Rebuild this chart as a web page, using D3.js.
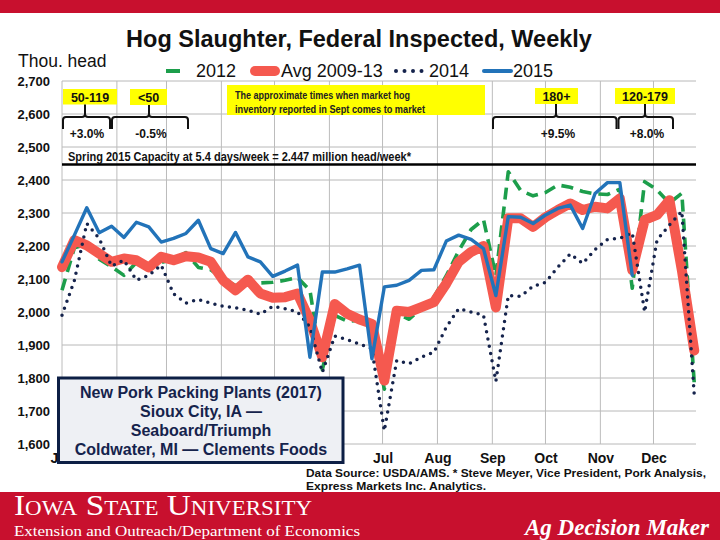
<!DOCTYPE html>
<html><head><meta charset="utf-8">
<script src="https://cdn.jsdelivr.net/npm/d3@7"></script>
<style>html,body{margin:0;padding:0;background:#fff}svg{display:block}</style>
</head><body>
<script>
// ---------------- DATA ----------------
const seriesNames = ["2012", "Avg 2009-13", "2014", "2015"];
const yTicks = [1600,1700,1800,1900,2000,2100,2200,2300,2400,2500,2600,2700];
const capacityValue = 2447;
const y2012 = [2066,2195,2205,2160,2137,2111,2150,2133,2150,2160,2180,2135,2128,2100,2080,2092,2088,2090,2096,2104,2066,1825,1990,1972,1975,1960,1766,1995,1978,2012,2045,2110,2185,2250,2280,2110,2425,2368,2352,2362,2385,2378,2365,2358,2356,2372,2072,2395,2370,2330,2360,1785];
const avg0913 = [2136,2218,2202,2177,2152,2162,2157,2135,2167,2157,2169,2165,2152,2096,2066,2098,2056,2043,2045,2056,1974,1863,2024,1995,1977,1964,1792,2004,2000,2015,2030,2086,2152,2182,2200,2014,2284,2284,2258,2287,2309,2329,2309,2319,2314,2344,2127,2279,2294,2339,2127,1883];
const y2014 = [1990,2096,2268,2223,2139,2157,2096,2111,2142,2055,2027,2038,2027,2017,2013,2005,1993,2017,2010,2000,1955,1817,1927,1916,1903,1888,1640,1853,1843,1863,1878,1954,2010,2000,1990,1790,2050,2047,2078,2090,2136,2176,2147,2189,2220,2223,2240,2000,2218,2264,2305,1750];
const y2015 = [2152,2233,2316,2240,2260,2226,2272,2258,2212,2223,2238,2278,2192,2177,2241,2167,2152,2108,2124,2142,1863,2121,2121,2131,2142,1858,2076,2081,2096,2126,2128,2215,2233,2220,2192,2050,2289,2287,2268,2294,2314,2324,2253,2359,2392,2392,2111];
const sowGroups = ["50-119", "<50", "180+", "120-179"];
const sowChanges = ["+3.0%", "-0.5%", "+9.5%", "+8.0%"];
// month labels hidden behind the note box in the original are not drawn
const hiddenMonths = ["Feb", "Mar", "Apr", "May", "Jun"];

// ---------------- LAYOUT ----------------
const W = 720, H = 540;
const SANS = "'Liberation Sans', Arial, Helvetica, sans-serif";
const NARROW = "'Liberation Sans Narrow', 'Arial Narrow', 'Liberation Sans', Arial, sans-serif";
const SERIF = "'Liberation Serif', 'Times New Roman', serif";
const svg = d3.select("body").append("svg").attr("width", W).attr("height", H);
svg.append("rect").attr("width", W).attr("height", H).attr("fill", "#fff");

const t0 = new Date(2015, 0, 1), t1 = new Date(2015, 11, 25);
const x = d3.scaleTime().domain([t0, t1]).range([62, 696]);
const y = d3.scaleLinear().domain([1600, 2700]).range([444, 81]);
const wk = i => d3.timeDay.offset(t0, 7 * i);
const fmtMonth = d3.timeFormat("%b");

// top band
svg.append("rect").attr("x", 0).attr("y", 0).attr("width", W).attr("height", 13).attr("fill", "#c8102e");

// title
svg.append("text").attr("x", 359).attr("y", 47).attr("text-anchor", "middle")
  .attr("font-family", SANS).attr("font-weight", "bold").attr("font-size", 23.5).attr("fill", "#111")
  .text("Hog Slaughter, Federal Inspected, Weekly");
svg.append("text").attr("x", 18).attr("y", 67).attr("font-family", SANS).attr("font-size", 17.5).attr("fill", "#111")
  .text("Thou. head");

// grid
const g = svg.append("g");
g.selectAll("line.h").data(yTicks).join("line")
  .attr("x1", 62).attr("x2", 696).attr("y1", d => y(d)).attr("y2", d => y(d))
  .attr("stroke", "#b8b8b8").attr("stroke-width", 1);
const months = d3.timeMonth.range(t0, t1);
g.selectAll("line.v").data(months).join("line")
  .attr("x1", d => x(d)).attr("x2", d => x(d)).attr("y1", 81).attr("y2", 444)
  .attr("stroke", "#bcbcbc").attr("stroke-width", 1);

// axes
const yAxis = svg.append("g").attr("transform", "translate(62,0)")
  .call(d3.axisLeft(y).tickValues(yTicks).tickFormat(d3.format(",")).tickSize(0).tickPadding(12));
yAxis.select(".domain").remove();
yAxis.selectAll("text").attr("font-family", SANS).attr("font-weight", "bold").attr("font-size", 13).attr("fill", "#111");

const shownMonths = months.filter(d => !hiddenMonths.includes(fmtMonth(d)));
const xAxis = svg.append("g").attr("transform", "translate(0,444)")
  .call(d3.axisBottom(x).tickValues(shownMonths).tickFormat(fmtMonth).tickSize(0).tickPadding(9));
xAxis.select(".domain").remove();
xAxis.selectAll("text").attr("font-family", SANS).attr("font-weight", "bold").attr("font-size", 14).attr("fill", "#111");

// capacity line
svg.append("line").attr("x1", 62).attr("x2", 696).attr("y1", y(capacityValue)).attr("y2", y(capacityValue))
  .attr("stroke", "#000").attr("stroke-width", 2.6);
svg.append("text").attr("x", 68).attr("y", 161).attr("font-family", NARROW).attr("font-weight", "bold")
  .attr("font-size", 12).attr("fill", "#111").attr("textLength", 343).attr("lengthAdjust", "spacingAndGlyphs")
  .text("Spring 2015 Capacity at 5.4 days/week = 2.447 million head/week*");

// series
const line = d3.line().x((d, i) => x(wk(i))).y(d => y(d));
const styles = [
  {data: y2012, color: "#1c9e4b", width: 3.6, dash: "12,7", cap: "butt"},
  {data: avg0913, color: "#f5594f", width: 10, dash: null, cap: "round"},
  {data: y2014, color: "#15234c", width: 3.5, dash: "0,7.4", cap: "round"},
  {data: y2015, color: "#2273b9", width: 3.4, dash: null, cap: "round"}
];
styles.forEach(s => {
  svg.append("path").datum(s.data).attr("d", line).attr("fill", "none")
    .attr("stroke", s.color).attr("stroke-width", s.width).attr("stroke-linejoin", "round")
    .attr("stroke-linecap", s.cap).attr("stroke-dasharray", s.dash);
});

// legend
const lg = svg.append("g");
const legendPos = [
  {sx1: 166, sx2: 180, tx: 196},
  {sx1: 255, sx2: 275, tx: 281},
  {sx1: 396, sx2: 425, tx: 429},
  {sx1: 484, sx2: 511, tx: 513}
];
styles.forEach((s, i) => {
  const p = legendPos[i];
  lg.append("line").attr("x1", p.sx1).attr("x2", p.sx2).attr("y1", 71).attr("y2", 71)
    .attr("stroke", s.color).attr("stroke-width", i === 1 ? 10 : 4)
    .attr("stroke-linecap", s.cap).attr("stroke-dasharray", i === 2 ? "0,8.5" : null);
  lg.append("text").attr("x", p.tx).attr("y", 77).attr("font-family", SANS).attr("font-size", 18).attr("fill", "#111")
    .text(seriesNames[i]);
});

// yellow boxes
const boxes = [
  {x0: 63, x1: 117, y0: 89, y1: 104.5, label: sowGroups[0]},
  {x0: 130, x1: 167, y0: 89, y1: 105, label: sowGroups[1]},
  {x0: 535, x1: 578, y0: 88, y1: 104, label: sowGroups[2]},
  {x0: 615, x1: 675, y0: 88, y1: 104, label: sowGroups[3]}
];
boxes.forEach(b => {
  svg.append("rect").attr("x", b.x0).attr("y", b.y0).attr("width", b.x1 - b.x0).attr("height", b.y1 - b.y0).attr("fill", "#ffff00");
  svg.append("text").attr("x", (b.x0 + b.x1) / 2).attr("y", b.y1 - 3).attr("text-anchor", "middle")
    .attr("font-family", SANS).attr("font-weight", "bold").attr("font-size", 12.5).attr("fill", "#111").text(b.label);
});
svg.append("rect").attr("x", 227).attr("y", 85).attr("width", 258).attr("height", 30).attr("fill", "#ffff00");
[["The approximate times when market hog", 99, 175], ["inventory reported in Sept comes to market", 112.5, 190]].forEach(l => {
  svg.append("text").attr("x", 235).attr("y", l[1]).attr("font-family", SANS).attr("font-weight", "bold")
    .attr("font-size", 11).attr("fill", "#222").attr("textLength", l[2]).attr("lengthAdjust", "spacingAndGlyphs")
    .text(l[0]);
});

// braces
const braces = [
  {x0: 63, x1: 110, xm: 85, top: 104.5},
  {x0: 112, x1: 188, xm: 149, top: 105},
  {x0: 493, x1: 616.5, xm: 556, top: 104},
  {x0: 618.5, x1: 673, xm: 645, top: 104}
];
const yh = 117, yb = 129;
braces.forEach((b, i) => {
  const p = `M${b.x0},${yb} L${b.x0},${yh + 3} Q${b.x0},${yh} ${b.x0 + 3},${yh} L${b.xm - 3},${yh} Q${b.xm},${yh} ${b.xm},${yh - 3} L${b.xm},${b.top}` +
            ` M${b.xm},${yh - 3} Q${b.xm},${yh} ${b.xm + 3},${yh} L${b.x1 - 3},${yh} Q${b.x1},${yh} ${b.x1},${yh + 3} L${b.x1},${yb}`;
  svg.append("path").attr("d", p).attr("fill", "none").attr("stroke", "#111").attr("stroke-width", 2);
  svg.append("text").attr("x", b.xm + 2).attr("y", 137.5).attr("text-anchor", "middle")
    .attr("font-family", SANS).attr("font-weight", "bold").attr("font-size", 12).attr("fill", "#111").text(sowChanges[i]);
});

// note box
svg.append("rect").attr("x", 58.5).attr("y", 378).attr("width", 284.5).attr("height", 84.5)
  .attr("fill", "#eef0f4").attr("stroke", "#0d1f45").attr("stroke-width", 3);
const noteLines = ["New Pork Packing Plants (2017)", "Sioux City, IA \u2014", "Seaboard/Triumph", "Coldwater, MI \u2014 Clements Foods"];
noteLines.forEach((t, i) => {
  svg.append("text").attr("x", 201).attr("y", 398 + i * 19).attr("text-anchor", "middle")
    .attr("font-family", SANS).attr("font-weight", "bold").attr("font-size", 16).attr("fill", "#15234c").text(t);
});

// source
svg.append("text").attr("x", 306).attr("y", 477).attr("font-family", SANS).attr("font-weight", "bold").attr("font-size", 11.5)
  .attr("fill", "#111").attr("textLength", 400).attr("lengthAdjust", "spacingAndGlyphs")
  .text("Data Source: USDA/AMS. * Steve Meyer, Vice President, Pork Analysis,");
svg.append("text").attr("x", 306).attr("y", 489.5).attr("font-family", SANS).attr("font-weight", "bold").attr("font-size", 11.5)
  .attr("fill", "#111").attr("textLength", 180).attr("lengthAdjust", "spacingAndGlyphs")
  .text("Express Markets Inc. Analytics.");

// footer
svg.append("rect").attr("x", 0).attr("y", 492).attr("width", W).attr("height", 48).attr("fill", "#c8102e");
svg.append("text").attr("x", 14).attr("y", 515).attr("font-family", SERIF).attr("font-size", 29)
  .style("font-variant", "small-caps").attr("fill", "#fff").attr("textLength", 298).attr("lengthAdjust", "spacingAndGlyphs")
  .text("Iowa State University");
svg.append("text").attr("x", 14).attr("y", 536).attr("font-family", SERIF).attr("font-size", 15)
  .attr("fill", "#fff").attr("textLength", 346).attr("lengthAdjust", "spacingAndGlyphs")
  .text("Extension and Outreach/Department of Economics");
svg.append("text").attr("x", 525).attr("y", 535).attr("font-family", SERIF).attr("font-size", 23)
  .attr("font-weight", "bold").attr("font-style", "italic").attr("fill", "#fff").attr("textLength", 184).attr("lengthAdjust", "spacingAndGlyphs")
  .text("Ag Decision Maker");
</script>
</body></html>
